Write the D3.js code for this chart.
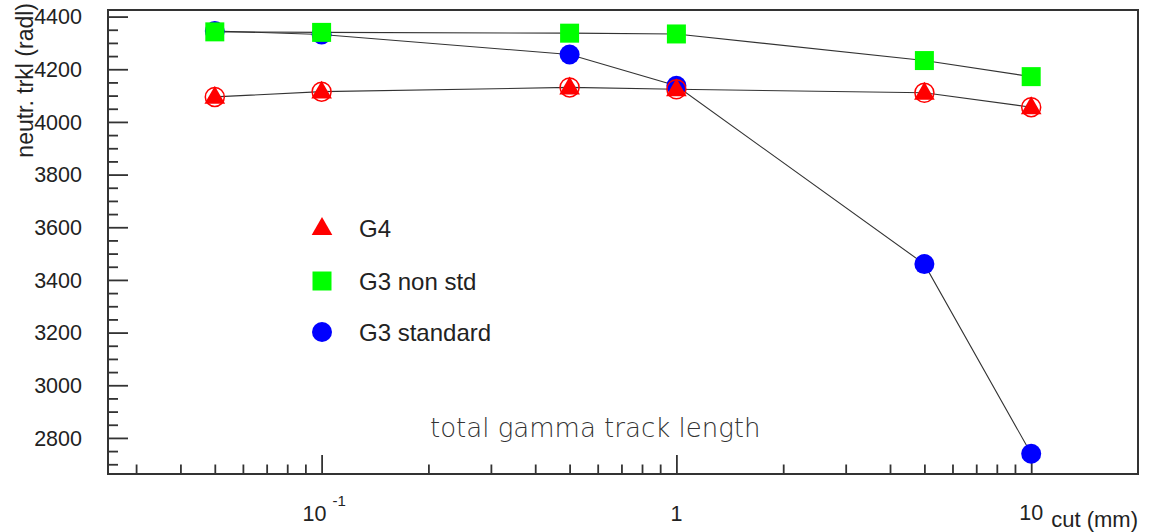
<!DOCTYPE html>
<html>
<head>
<meta charset="utf-8">
<script src="https://cdn.jsdelivr.net/npm/d3@7"></script>
<style>
  html, body { margin: 0; padding: 0; background: #fff; }
  svg { display: block; }
  text { font-family: "Liberation Sans", Arial, sans-serif; fill: #222; }
  text.note { font-family: "DejaVu Sans ExtraLight", "DejaVu Sans", sans-serif; font-weight: 200; fill: #333; }
</style>
</head>
<body>
<svg id="chart" width="1151" height="532"></svg>
<script>
// ---- data ----
const cuts = [0.05, 0.1, 0.5, 1, 5, 10];
const g4 = [4095, 4115, 4131, 4124, 4111, 4056];
const g3NonStd = [4342, 4340, 4337, 4334, 4233, 4172];
const g3Standard = [4345, 4332, 4256, 4137, 3460, 2740];
const legendLabels = ["G4", "G3 non std", "G3 standard"];
const yMajorTicks = [2800, 3000, 3200, 3400, 3600, 3800, 4000, 4200, 4400];
const xMajorTicks = [0.1, 1, 10];
const xDomain = [0.025, 20];
const yDomain = [2663, 4425];

const svg = d3.select("#chart");
const L = 108, R = 1138, T = 10, B = 474;

const x = d3.scaleLog().domain(xDomain).range([L, R]);
const y = d3.scaleLinear().domain(yDomain).range([B, T]);

// ---- axes ----
const yMinor = d3.range(2700, 4401, 50).filter(v => !yMajorTicks.includes(v));
const yAxisMajor = d3.axisRight(y).tickValues(yMajorTicks).tickSize(20).tickFormat("");
const yAxisMinor = d3.axisRight(y).tickValues(yMinor).tickSize(10).tickFormat("");
[yAxisMajor, yAxisMinor].forEach(ax => {
  const g = svg.append("g").attr("transform", `translate(${L},0)`).call(ax);
  g.select(".domain").remove();
  g.selectAll("line").attr("stroke", "#333").attr("stroke-width", 1.8);
});
svg.append("g").selectAll("text").data(yMajorTicks).join("text")
  .attr("x", 82).attr("y", d => y(d) + 7.8)
  .attr("text-anchor", "end")
  .attr("font-size", 21.5)
  .text(d => d);

const xMinor = [];
[0.01, 0.1, 1, 10].forEach(dec => {
  for (let k = 2; k <= 9; k++) {
    const v = dec * k;
    if (v > xDomain[0] && v < xDomain[1]) xMinor.push(v);
  }
});
const xAxisMajor = d3.axisTop(x).tickValues(xMajorTicks).tickSize(19).tickFormat("");
const xAxisMinor = d3.axisTop(x).tickValues(xMinor).tickSize(9.5).tickFormat("");
[xAxisMajor, xAxisMinor].forEach(ax => {
  const g = svg.append("g").attr("transform", `translate(0,${B})`).call(ax);
  g.select(".domain").remove();
  g.selectAll("line").attr("stroke", "#333").attr("stroke-width", 1.8);
});

const xl = svg.append("g");
const t1 = xl.append("text").attr("x", x(0.1) - 19).attr("y", 521).attr("font-size", 21.5);
t1.append("tspan").text("10");
t1.append("tspan").attr("dx", 6).attr("dy", -15).attr("font-size", 15).text("-1");
xl.append("text").attr("x", x(1)).attr("y", 521).attr("text-anchor", "middle").attr("font-size", 21.5).text("1");
xl.append("text").attr("x", x(10)).attr("y", 520).attr("text-anchor", "middle").attr("font-size", 21.5).text("10");
xl.append("text").attr("x", R).attr("y", 527).attr("text-anchor", "end").attr("font-size", 22).text("cut (mm)");

svg.append("text")
  .attr("transform", "translate(33,3) rotate(-90)")
  .attr("text-anchor", "end")
  .attr("font-size", 23)
  .text("neutr. trkl (radl)");

// ---- frame ----
svg.append("rect").attr("x", L).attr("y", T).attr("width", R - L).attr("height", B - T)
  .attr("fill", "none").attr("stroke", "#333").attr("stroke-width", 2);

// ---- lines ----
const line = d3.line().x(d => x(d[0])).y(d => y(d[1]));
const series = [
  { vals: g3Standard, color: "#0000ff", shape: "circle" },
  { vals: g3NonStd, color: "#00ff00", shape: "square" },
  { vals: g4, color: "#ff0000", shape: "triangle" }
];
series.forEach(s => {
  svg.append("path").datum(cuts.map((c, i) => [c, s.vals[i]]))
    .attr("d", line).attr("fill", "none").attr("stroke", "#333").attr("stroke-width", 1.1);
});

// ---- markers ----
const sym = {
  circle: d3.symbol().type(d3.symbolCircle).size(Math.PI * 10 * 10),
  square: d3.symbol().type(d3.symbolSquare).size(19 * 19),
  triangle: d3.symbol().type(d3.symbolTriangle).size(185)
};
series.forEach(s => {
  svg.append("g").selectAll("path").data(cuts.map((c, i) => [c, s.vals[i]])).join("path")
    .attr("transform", d => `translate(${x(d[0])},${y(d[1]) + (s.shape === "triangle" ? 1 : 0)})`)
    .attr("d", sym[s.shape]())
    .attr("fill", s.color);
});
svg.append("g").selectAll("circle").data(cuts.map((c, i) => [c, g4[i]])).join("circle")
  .attr("cx", d => x(d[0])).attr("cy", d => y(d[1]))
  .attr("r", 9.5).attr("fill", "none").attr("stroke", "#ff0000").attr("stroke-width", 1.5);

// ---- legend ----
const legY = [228, 281, 332];
const legShapes = ["triangle", "square", "circle"];
const legColors = ["#ff0000", "#00ff00", "#0000ff"];
legendLabels.forEach((lab, i) => {
  svg.append("path")
    .attr("transform", `translate(322,${legY[i] + (legShapes[i] === "triangle" ? 1 : 0)})`)
    .attr("d", sym[legShapes[i]]())
    .attr("fill", legColors[i]);
  svg.append("text").attr("x", 359).attr("y", legY[i] + 8.5)
    .attr("font-size", 24).text(lab);
});

// ---- annotation ----
svg.append("text")
  .attr("class", "note")
  .attr("x", 430).attr("y", 437)
  .attr("font-size", 26)
  .text("total gamma track length");
</script>
</body>
</html>
